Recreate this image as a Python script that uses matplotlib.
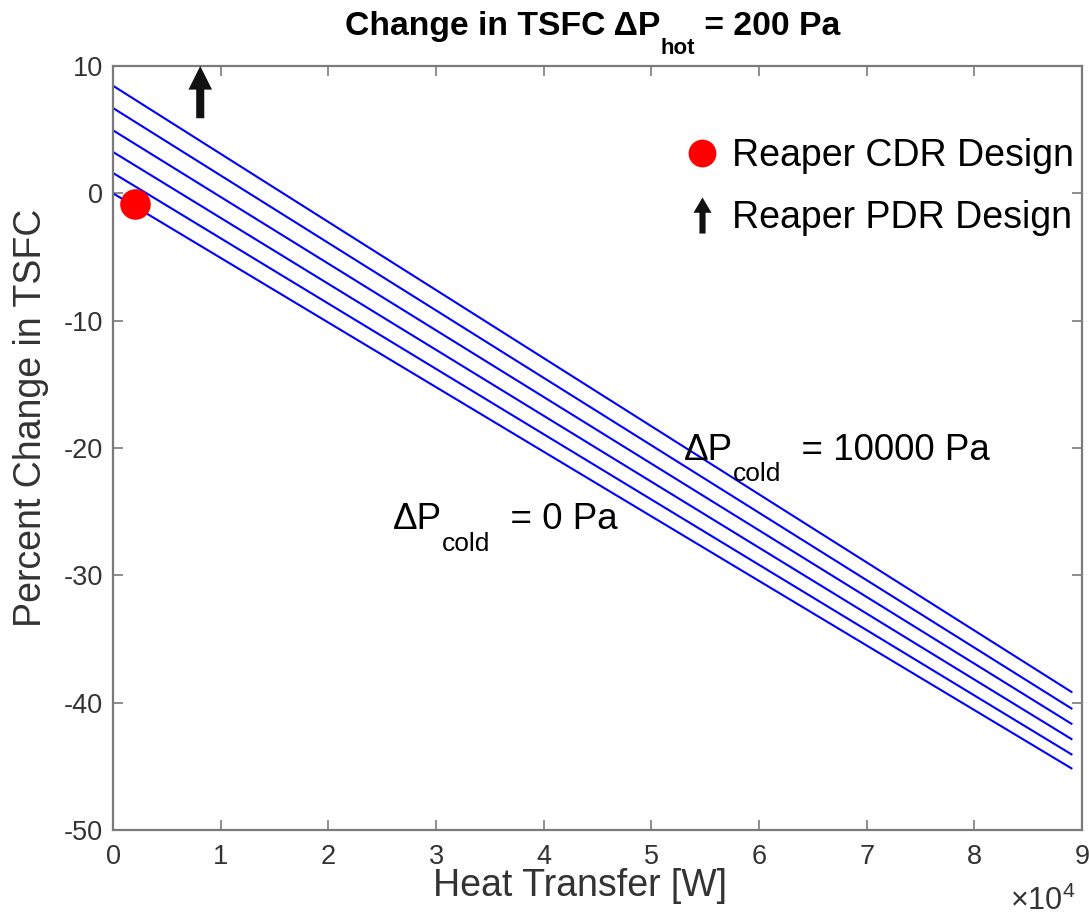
import matplotlib
matplotlib.use("Agg")
import matplotlib.pyplot as plt
from matplotlib.path import Path
from matplotlib.lines import Line2D
import numpy as np

plt.rcParams['font.family'] = ['Liberation Sans', 'DejaVu Sans']
plt.rcParams['mathtext.fontset'] = 'custom'
plt.rcParams['mathtext.rm'] = 'Liberation Sans'
plt.rcParams['mathtext.it'] = 'Liberation Sans'
plt.rcParams['mathtext.bf'] = 'Liberation Sans:bold'
plt.rcParams['axes.unicode_minus'] = False

# Data
heat_transfer = [0, 89100]  # W
line_start = [8.45, 6.7, 4.95, 3.25, 1.6, 0.0]       # % change at 0 W
line_end = [-39.2, -40.5, -41.7, -42.9, -44.1, -45.2]  # % change at 89100 W
cdr_point = (2000, -0.8)
pdr_arrow_x = 8100
pdr_arrow_y = (5.9, 10)
xticks = [0, 10000, 20000, 30000, 40000, 50000, 60000, 70000, 80000, 90000]
xticklabels = ['0', '1', '2', '3', '4', '5', '6', '7', '8', '9']
yticks = [-50, -40, -30, -20, -10, 0, 10]
legend_labels = ['Reaper CDR Design', 'Reaper PDR Design']

spine_c = '#7a7a7a'
label_c = '#333333'

fig = plt.figure(figsize=(10.89, 9.17), dpi=100)
ax = fig.add_axes([0.1038, 0.0949, 0.8898, 0.8331])

for s, e in zip(line_start, line_end):
    ax.plot(heat_transfer, [s, e], color='#0000ff', lw=1.5, solid_capstyle='butt')

ax.plot([cdr_point[0]], [cdr_point[1]], 'o', color='#ff0000', ms=22, mec='none', clip_on=False)

ax.annotate('', xy=(pdr_arrow_x, pdr_arrow_y[1]), xytext=(pdr_arrow_x, pdr_arrow_y[0]),
            arrowprops=dict(width=5.8, headwidth=17, headlength=17, shrink=0,
                            facecolor='#111111', edgecolor='none'),
            annotation_clip=False)

ax.set_xlim(0, 90000)
ax.set_ylim(-50, 10)
ax.set_xticks(xticks)
ax.set_xticklabels(xticklabels)
ax.set_yticks(yticks)
ax.tick_params(direction='in', length=7, width=1.2, colors=spine_c, labelcolor=label_c,
               labelsize=19.5, top=True, right=True)
ax.tick_params(axis='y', pad=7)
ax.tick_params(axis='x', pad=10)
for sp in ax.spines.values():
    sp.set_color(spine_c)
    sp.set_linewidth(1.6)

ax.set_xlabel('Heat Transfer [W]', fontsize=27, color=label_c)
ax.xaxis.set_label_coords(0.482, -0.050)
ax.set_ylabel('Percent Change in TSFC', fontsize=27, color=label_c)
ax.yaxis.set_label_coords(-0.066, 0.54)


def chain(first_xy, first_coords, parts, **kw):
    """parts: list of (text, fontsize, dy_points) placed left to right on baselines."""
    t0, fs0, _ = parts[0]
    prev = ax.annotate(t0, xy=first_xy, xycoords=first_coords, fontsize=fs0,
                       va='baseline', ha='left', annotation_clip=False, **kw)
    prev_dy = 0
    for txt, fs, dy in parts[1:]:
        # bottom of previous bbox ~ its baseline (no descenders in these strings)
        prev = ax.annotate(txt, xy=(1, 0), xycoords=prev, xytext=(0, dy - prev_dy),
                           textcoords='offset points', fontsize=fs, va='bottom', ha='left',
                           annotation_clip=False, **kw)
        prev_dy = dy
    return prev


# title pieces (figure pixel coords -> fraction)
chain((345 / 1089, 1 - 35 / 917), 'figure fraction',
      [('Change in TSFC \u0394P', 24.3, 0), ('hot', 16, -12), (' = 200 Pa', 24.3, 0)],
      fontweight='bold', color='black')

# annotations
chain((53000, -20.95), 'data',
      [('\u0394P', 26.5, 0), ('cold', 19, -13), ('  = 10000 Pa', 26.5, 0)], color='black')
chain((26000, -26.4), 'data',
      [('\u0394P', 26.5, 0), ('cold', 19, -13), ('  = 0 Pa', 26.5, 0)], color='black')

# x10^4 multiplier
fig.text(1010 / 1089, 1 - 910 / 917, r'$\times$10$^{4}$', ha='left', va='baseline',
         fontsize=22, color=label_c)

# custom arrow marker
arrow_verts = [(-0.17, -1), (0.17, -1), (0.17, 0.15), (0.5, 0.15), (0, 1), (-0.5, 0.15), (-0.17, 0.15), (-0.17, -1)]
arrow_marker = Path(arrow_verts, [Path.MOVETO] + [Path.LINETO] * 6 + [Path.CLOSEPOLY])

handles = [Line2D([], [], ls='none', marker='o', color='#ff0000', ms=20, mec='none'),
           Line2D([], [], ls='none', marker=arrow_marker, color='#111111', ms=26, mec='none')]
ax.legend(handles, legend_labels, loc='upper right',
          bbox_to_anchor=(0.9917, 0.906), frameon=False, fontsize=27, handlelength=1.0,
          handletextpad=0.3, labelspacing=0.7, borderpad=0, borderaxespad=0)

fig.savefig('out.png', dpi=100)
